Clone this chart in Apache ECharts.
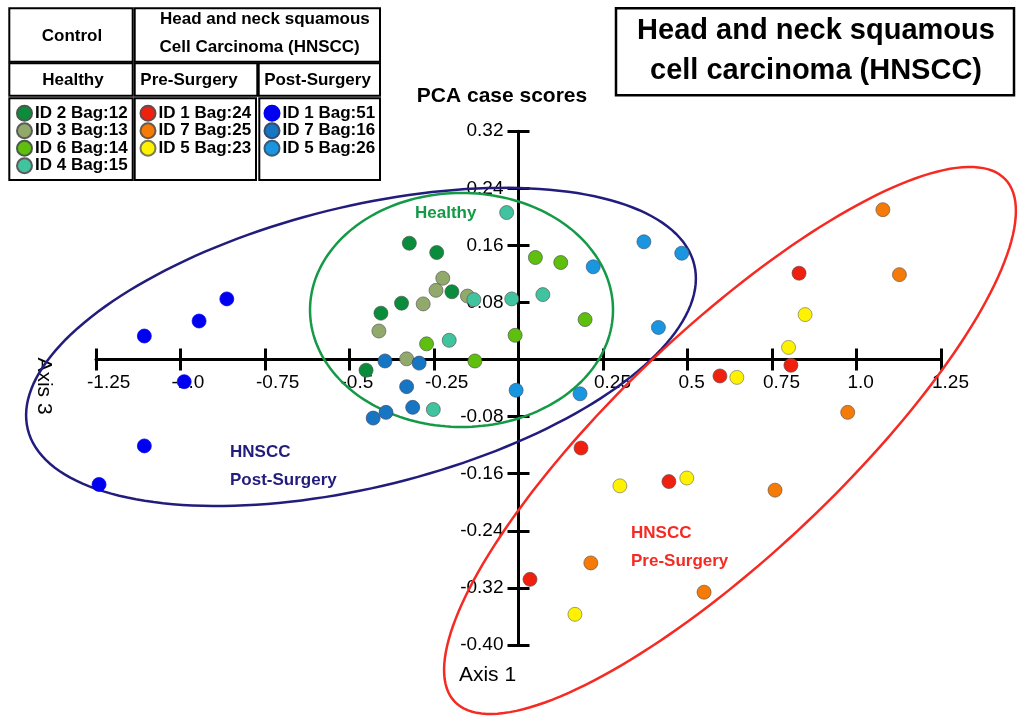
<!DOCTYPE html>
<html>
<head>
<meta charset="utf-8">
<script src="https://cdn.jsdelivr.net/npm/echarts@6/dist/echarts.min.js"></script>
<style>html,body{margin:0;padding:0;background:#fff}#chart{width:1024px;height:723px}</style>
</head>
<body>
<div id="chart"></div>
<script>
const FONT = '"Liberation Sans", Arial, Helvetica, sans-serif';

// Tick labels (index = step from axis min)
const xTickLabels = ['-1.25','-1.0','-0.75','-0.5','-0.25','','0.25','0.5','0.75','1.0','1.25'];
const yTickLabels = ['-0.40','-0.32','-0.24','-0.16','-0.08','','0.08','0.16','0.24','0.32'];

// Group names
const healthyNames = ['ID 2 Bag:12','ID 3 Bag:13','ID 6 Bag:14','ID 4 Bag:15'];
const preNames     = ['ID 1 Bag:24','ID 7 Bag:25','ID 5 Bag:23'];
const postNames    = ['ID 1 Bag:51','ID 7 Bag:16','ID 5 Bag:26'];

// PCA case scores [Axis 1, Axis 3]
const id2Bag12 = [[-0.323,0.163],[-0.242,0.150],[-0.197,0.095],[-0.346,0.079],[-0.407,0.065],[-0.451,-0.015]];
const id3Bag13 = [[-0.224,0.114],[-0.244,0.097],[-0.151,0.089],[-0.282,0.078],[-0.413,0.040],[-0.331,0.001]];
const id6Bag14 = [[0.050,0.143],[0.125,0.136],[0.197,0.056],[-0.010,0.034],[-0.272,0.022],[-0.129,-0.002]];
const id4Bag15 = [[-0.035,0.206],[-0.132,0.084],[-0.020,0.085],[0.072,0.091],[-0.205,0.027],[-0.252,-0.070]];
const id1Bag24 = [[0.830,0.121],[0.806,-0.008],[0.596,-0.023],[0.185,-0.124],[0.445,-0.171],[0.034,-0.308]];
const id7Bag25 = [[1.078,0.210],[1.127,0.119],[0.974,-0.074],[0.214,-0.285],[0.549,-0.326],[0.759,-0.183]];
const id5Bag23 = [[0.848,0.063],[0.799,0.017],[0.646,-0.025],[0.300,-0.177],[0.498,-0.166],[0.167,-0.357]];
const id1Bag51 = [[-0.863,0.085],[-0.945,0.054],[-1.107,0.033],[-0.989,-0.031],[-1.107,-0.121],[-1.241,-0.175]];
const id7Bag16 = [[-0.395,-0.002],[-0.294,-0.005],[-0.331,-0.038],[-0.392,-0.074],[-0.430,-0.082],[-0.313,-0.067]];
const id5Bag26 = [[0.221,0.130],[0.182,-0.048],[0.371,0.165],[0.483,0.149],[0.414,0.045],[-0.007,-0.043]];

// Confidence ellipses: [centerX, centerY, axisU_x, axisU_y, axisV_x, axisV_y] in data units
const healthyEllipse = [-0.1686, 0.0695, 0.4482, 0, 0, -0.164];
const postEllipse    = [-0.466, 0.0177, 0.9858, 0.1156, 0.0996, -0.1906];
const preEllipse     = [0.6257, -0.1134, 0.8145, 0.3660, 0.2284, -0.1139];

const groups = [
  {name: healthyNames[0], data: id2Bag12, color: '#0a8c3c', border: '#4a5a4a'},
  {name: healthyNames[1], data: id3Bag13, color: '#92a96c', border: '#5a5a5a'},
  {name: healthyNames[2], data: id6Bag14, color: '#5fbf0e', border: '#4a5a4a'},
  {name: healthyNames[3], data: id4Bag15, color: '#3fc49f', border: '#5a5a5a'},
  {name: preNames[0], data: id1Bag24, color: '#f0200f', border: '#6a4a4a'},
  {name: preNames[1], data: id7Bag25, color: '#f57a08', border: '#6a5a4a'},
  {name: preNames[2], data: id5Bag23, color: '#fff200', border: '#7a7a5a'},
  {name: postNames[0], data: id1Bag51, color: '#0000f0', border: '#0000f0'},
  {name: postNames[1], data: id7Bag16, color: '#1776c4', border: '#3a4a6a'},
  {name: postNames[2], data: id5Bag26, color: '#1a95e0', border: '#3a5a7a'}
];

function ellipseSeries(params, color) {
  return {
    type: 'custom', silent: true, clip: false, z: 1,
    data: [params],
    renderItem: function (p, api) {
      const cx = api.value(0), cy = api.value(1), ux = api.value(2), uy = api.value(3), vx = api.value(4), vy = api.value(5);
      const pts = [];
      const N = 180;
      for (let i = 0; i < N; i++) {
        const t = i / N * Math.PI * 2;
        pts.push(api.coord([cx + ux * Math.cos(t) + vx * Math.sin(t), cy + uy * Math.cos(t) + vy * Math.sin(t)]));
      }
      return {type: 'polygon', shape: {points: pts}, style: {fill: 'none', stroke: color, lineWidth: 2.5}};
    }
  };
}

const axisLineStyle = {color: '#000', width: 3};
const tickStyle = {color: '#000', width: 3};

const legendBase = {
  orient: 'vertical', padding: 0, itemWidth: 15, itemHeight: 15, itemGap: 0, icon: 'circle',
  top: 104.5, selectedMode: false,
  textStyle: {fontFamily: FONT, fontWeight: 'bold', fontSize: 17, color: '#000', lineHeight: 17.5, padding: [0,0,0,-2]}
};

function cell(x, y, w, h) {
  return {type: 'rect', shape: {x: x, y: y, width: w, height: h}, style: {fill: 'none', stroke: '#000', lineWidth: 2}};
}
function txt(x, y, text, size, weight, color, align) {
  return {type: 'text', x: x, y: y, style: {text: text, font: weight + ' ' + size + 'px ' + FONT, fill: color, align: align || 'left', verticalAlign: 'middle'}};
}

const option = {
  animation: false,
  backgroundColor: '#fff',
  grid: {left: 96, right: 83, top: 131.2, bottom: 78, containLabel: false, outerBoundsMode: 'none'},
  xAxis: [
    {type: 'value', min: -1.25, max: 1.25, interval: 0.25, position: 'bottom', offset: 0,
     splitLine: {show: false},
     axisLine: {onZero: false, lineStyle: axisLineStyle},
     axisTick: {show: true, inside: false, length: 11, lineStyle: tickStyle},
     axisLabel: {show: true, interval: 0, hideOverlap: false, margin: 14, align: 'left', padding: [0,0,0,-9],
       fontFamily: FONT, fontSize: 19, color: '#000',
       formatter: function (v) { return xTickLabels[Math.round((v + 1.25) / 0.25)]; }}},
    {type: 'value', min: -1.25, max: 1.25, interval: 0.25, position: 'bottom', offset: 0,
     splitLine: {show: false},
     axisLine: {show: false, onZero: false},
     axisTick: {show: true, inside: true, length: 11, lineStyle: tickStyle},
     axisLabel: {show: false}}
  ],
  yAxis: [
    {type: 'value', min: -0.40, max: 0.32, interval: 0.08, position: 'left', offset: 0,
     splitLine: {show: false},
     axisLine: {onZero: false, lineStyle: axisLineStyle},
     axisTick: {show: true, inside: false, length: 11, lineStyle: tickStyle},
     axisLabel: {show: true, interval: 0, hideOverlap: false, margin: 15,
       fontFamily: FONT, fontSize: 19, color: '#000',
       formatter: function (v) { return yTickLabels[Math.round((v + 0.40) / 0.08)]; }}},
    {type: 'value', min: -0.40, max: 0.32, interval: 0.08, position: 'left', offset: 0,
     splitLine: {show: false},
     axisLine: {show: false, onZero: false},
     axisTick: {show: true, inside: true, length: 11, lineStyle: tickStyle},
     axisLabel: {show: false}}
  ],
  legend: [
    Object.assign({}, legendBase, {data: healthyNames, left: 16}),
    Object.assign({}, legendBase, {data: preNames, left: 139.5}),
    Object.assign({}, legendBase, {data: postNames, left: 263.5})
  ],
  series: [
    ellipseSeries(healthyEllipse, '#149a46'),
    ellipseSeries(postEllipse, '#221c7c'),
    ellipseSeries(preEllipse, '#f52a22')
  ].concat(groups.map(function (g) {
    return {
      type: 'scatter', name: g.name, data: g.data, symbol: 'circle', symbolSize: 14, z: 3,
      xAxisIndex: 0, yAxisIndex: 0,
      itemStyle: {color: g.color, borderColor: g.border, borderWidth: 0.7, opacity: 1},
      emphasis: {disabled: true}
    };
  })),
  graphic: [
    // legend table
    cell(9.3, 8.3, 123.4, 53.4),
    cell(134.7, 8.3, 245.3, 53.4),
    cell(9.3, 63.3, 123.4, 32.4),
    cell(134.7, 63.3, 122.6, 32.4),
    cell(258.7, 63.3, 121.3, 32.4),
    cell(9.3, 98.3, 123.4, 81.7),
    cell(134.7, 98.3, 121.3, 81.7),
    cell(259.3, 98.3, 120.7, 81.7),
    txt(72, 36, 'Control', 17, 'bold', '#000', 'center'),
    txt(160, 19, 'Head and neck squamous', 17, 'bold', '#000'),
    txt(159.5, 47.5, 'Cell Carcinoma (HNSCC)', 17, 'bold', '#000'),
    txt(73, 80, 'Healthy', 17, 'bold', '#000', 'center'),
    txt(189, 80, 'Pre-Surgery', 17, 'bold', '#000', 'center'),
    txt(317.5, 80, 'Post-Surgery', 17, 'bold', '#000', 'center'),
    // title box
    {type: 'rect', shape: {x: 616, y: 8.3, width: 398, height: 87}, style: {fill: 'none', stroke: '#000', lineWidth: 2.5}},
    txt(816, 30.5, 'Head and neck squamous', 29, 'bold', '#000', 'center'),
    txt(816, 71, 'cell carcinoma (HNSCC)', 29, 'bold', '#000', 'center'),
    // axis titles
    txt(502, 96, 'PCA case scores', 21, 'bold', '#000', 'center'),
    txt(487.5, 675, 'Axis 1', 21, 'normal', '#000', 'center'),
    {type: 'text', x: 43.5, y: 386, rotation: -Math.PI / 2,
     style: {text: 'Axis 3', font: 'normal 21px ' + FONT, fill: '#000', align: 'center', verticalAlign: 'middle'}},
    // group annotations
    txt(415, 213.5, 'Healthy', 17, 'bold', '#149a46'),
    txt(230, 452.7, 'HNSCC', 17, 'bold', '#221c7c'),
    txt(230, 480.7, 'Post-Surgery', 17, 'bold', '#221c7c'),
    txt(631, 533, 'HNSCC', 17, 'bold', '#f52a22'),
    txt(631, 561.7, 'Pre-Surgery', 17, 'bold', '#f52a22')
  ]
};

const chart = echarts.init(document.getElementById('chart'), null, {renderer: 'canvas'});
chart.setOption(option);

// Move the axes so they cross at the origin (labels follow the axis this way)
const x0 = chart.convertToPixel({xAxisIndex: 0}, 0);
const xLeft = chart.convertToPixel({xAxisIndex: 0}, -1.25);
const y0 = chart.convertToPixel({yAxisIndex: 0}, 0);
const yBottom = chart.convertToPixel({yAxisIndex: 0}, -0.40);
const yOff = -(x0 - xLeft);
const xOff = -(yBottom - y0);
chart.setOption({
  xAxis: [{offset: xOff}, {offset: xOff}],
  yAxis: [{offset: yOff}, {offset: yOff}]
});
</script>
</body>
</html>
